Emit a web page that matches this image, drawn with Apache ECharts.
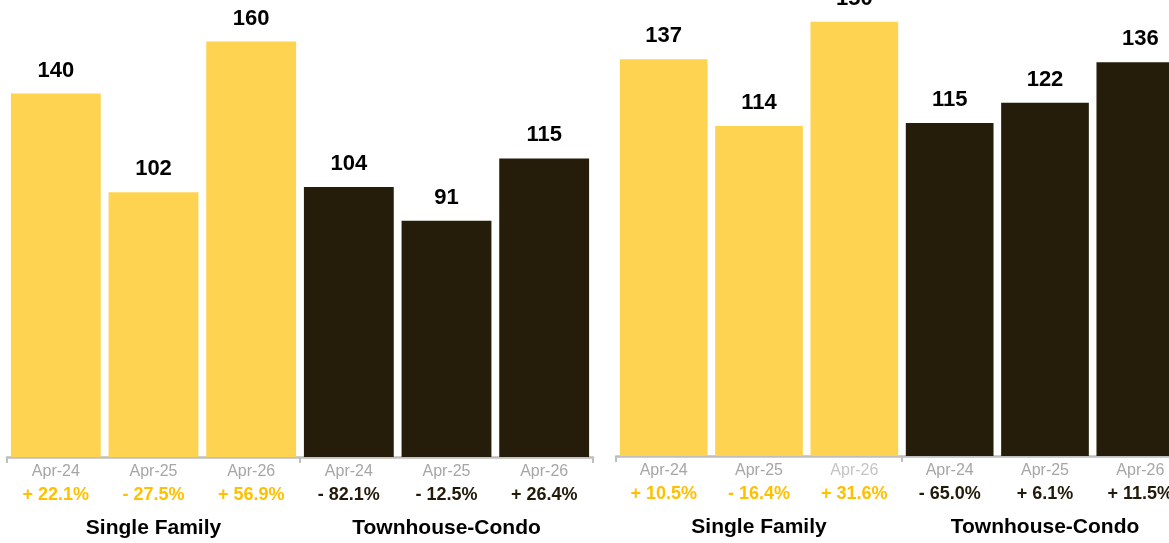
<!DOCTYPE html>
<html>
<head>
<meta charset="utf-8">
<style>
html,body{margin:0;padding:0;background:#fff;}
#chart{width:1169px;height:543px;}
</style>
<script src="https://cdn.jsdelivr.net/npm/echarts@6/dist/echarts.min.js"></script>
</head>
<body>
<div id="chart"></div>
<script>
const periods = ['Apr-24','Apr-25','Apr-26','Apr-24','Apr-25','Apr-26'];
const groups = ['Single Family','Townhouse-Condo'];
const groupOfBar = [0,0,0,1,1,1];
const leftValues = [140,102,160,104,91,115];
const leftChanges = ['+ 22.1%','- 27.5%','+ 56.9%','- 82.1%','- 12.5%','+ 26.4%'];
const rightValues = [137,114,150,115,122,136];
const rightChanges = ['+ 10.5%','- 16.4%','+ 31.6%','- 65.0%','+ 6.1%','+ 11.5%'];

const FONT = '"Liberation Sans", Arial, Helvetica, sans-serif';
const GOLD = '#FED352';
const DARK = '#261C0A';
const GOLD_TXT = '#FFC000';
const DARK_TXT = '#231A0A';
const AXIS_GRAY = '#BFBFBF';

function barData(vals){
  return vals.map((v,i)=>({value:v,itemStyle:{color:groupOfBar[i]===0?GOLD:DARK}}));
}
function catAxis(gridIndex, changes, lightIdx){
  return {
    type:'category', gridIndex, position:'bottom', data:periods,
    axisLine:{show:false}, axisTick:{show:false},
    axisLabel:{
      interval:0, margin:4, fontFamily:FONT, hideOverlap:false,
      formatter:(v,i)=>{
        const dk = (i===lightIdx)?'dl':'d';
        const pk = groupOfBar[i]===0?'pg':'pk';
        return '{'+dk+'|'+v+'}\n{'+pk+'|'+changes[i]+'}';
      },
      rich:{
        d:{color:'#A6A6A6',fontSize:16,lineHeight:22,fontFamily:FONT},
        dl:{color:'#C4C4C4',fontSize:16,lineHeight:22,fontFamily:FONT},
        pg:{color:GOLD_TXT,fontSize:18,fontWeight:'bold',lineHeight:24,fontFamily:FONT},
        pk:{color:DARK_TXT,fontSize:18,fontWeight:'bold',lineHeight:24,fontFamily:FONT}
      }
    }
  };
}
function groupAxis(gridIndex){
  return {
    type:'category', gridIndex, position:'bottom', data:groups,
    axisLine:{show:true,lineStyle:{color:AXIS_GRAY,width:2.5}},
    axisTick:{show:true,length:6,lineStyle:{color:AXIS_GRAY,width:2}},
    axisLabel:{interval:0,margin:61,color:'#000',fontSize:21,fontWeight:'bold',fontFamily:FONT}
  };
}
const labelStyle = {show:true,position:'top',distance:12,color:'#000',fontSize:22,fontWeight:'bold',fontFamily:FONT};

const chart = echarts.init(document.getElementById('chart'),null,{renderer:'canvas'});
chart.setOption({
  animation:false,
  backgroundColor:'#fff',
  grid:[
    {left:7,width:586,top:0,height:457,outerBoundsMode:'none',containLabel:false},
    {left:616,width:572,top:0,height:456,outerBoundsMode:'none',containLabel:false}
  ],
  xAxis:[catAxis(0,leftChanges,-1),groupAxis(0),catAxis(1,rightChanges,2),groupAxis(1)],
  yAxis:[
    {type:'value',gridIndex:0,min:0,max:176,show:false,splitLine:{show:false}},
    {type:'value',gridIndex:1,min:0,max:157.5,show:false,splitLine:{show:false}}
  ],
  series:[
    {type:'bar',xAxisIndex:0,yAxisIndex:0,data:barData(leftValues),barCategoryGap:'8%',label:labelStyle},
    {type:'bar',xAxisIndex:2,yAxisIndex:1,data:barData(rightValues),barCategoryGap:'8%',label:labelStyle}
  ]
});
</script>
</body>
</html>
